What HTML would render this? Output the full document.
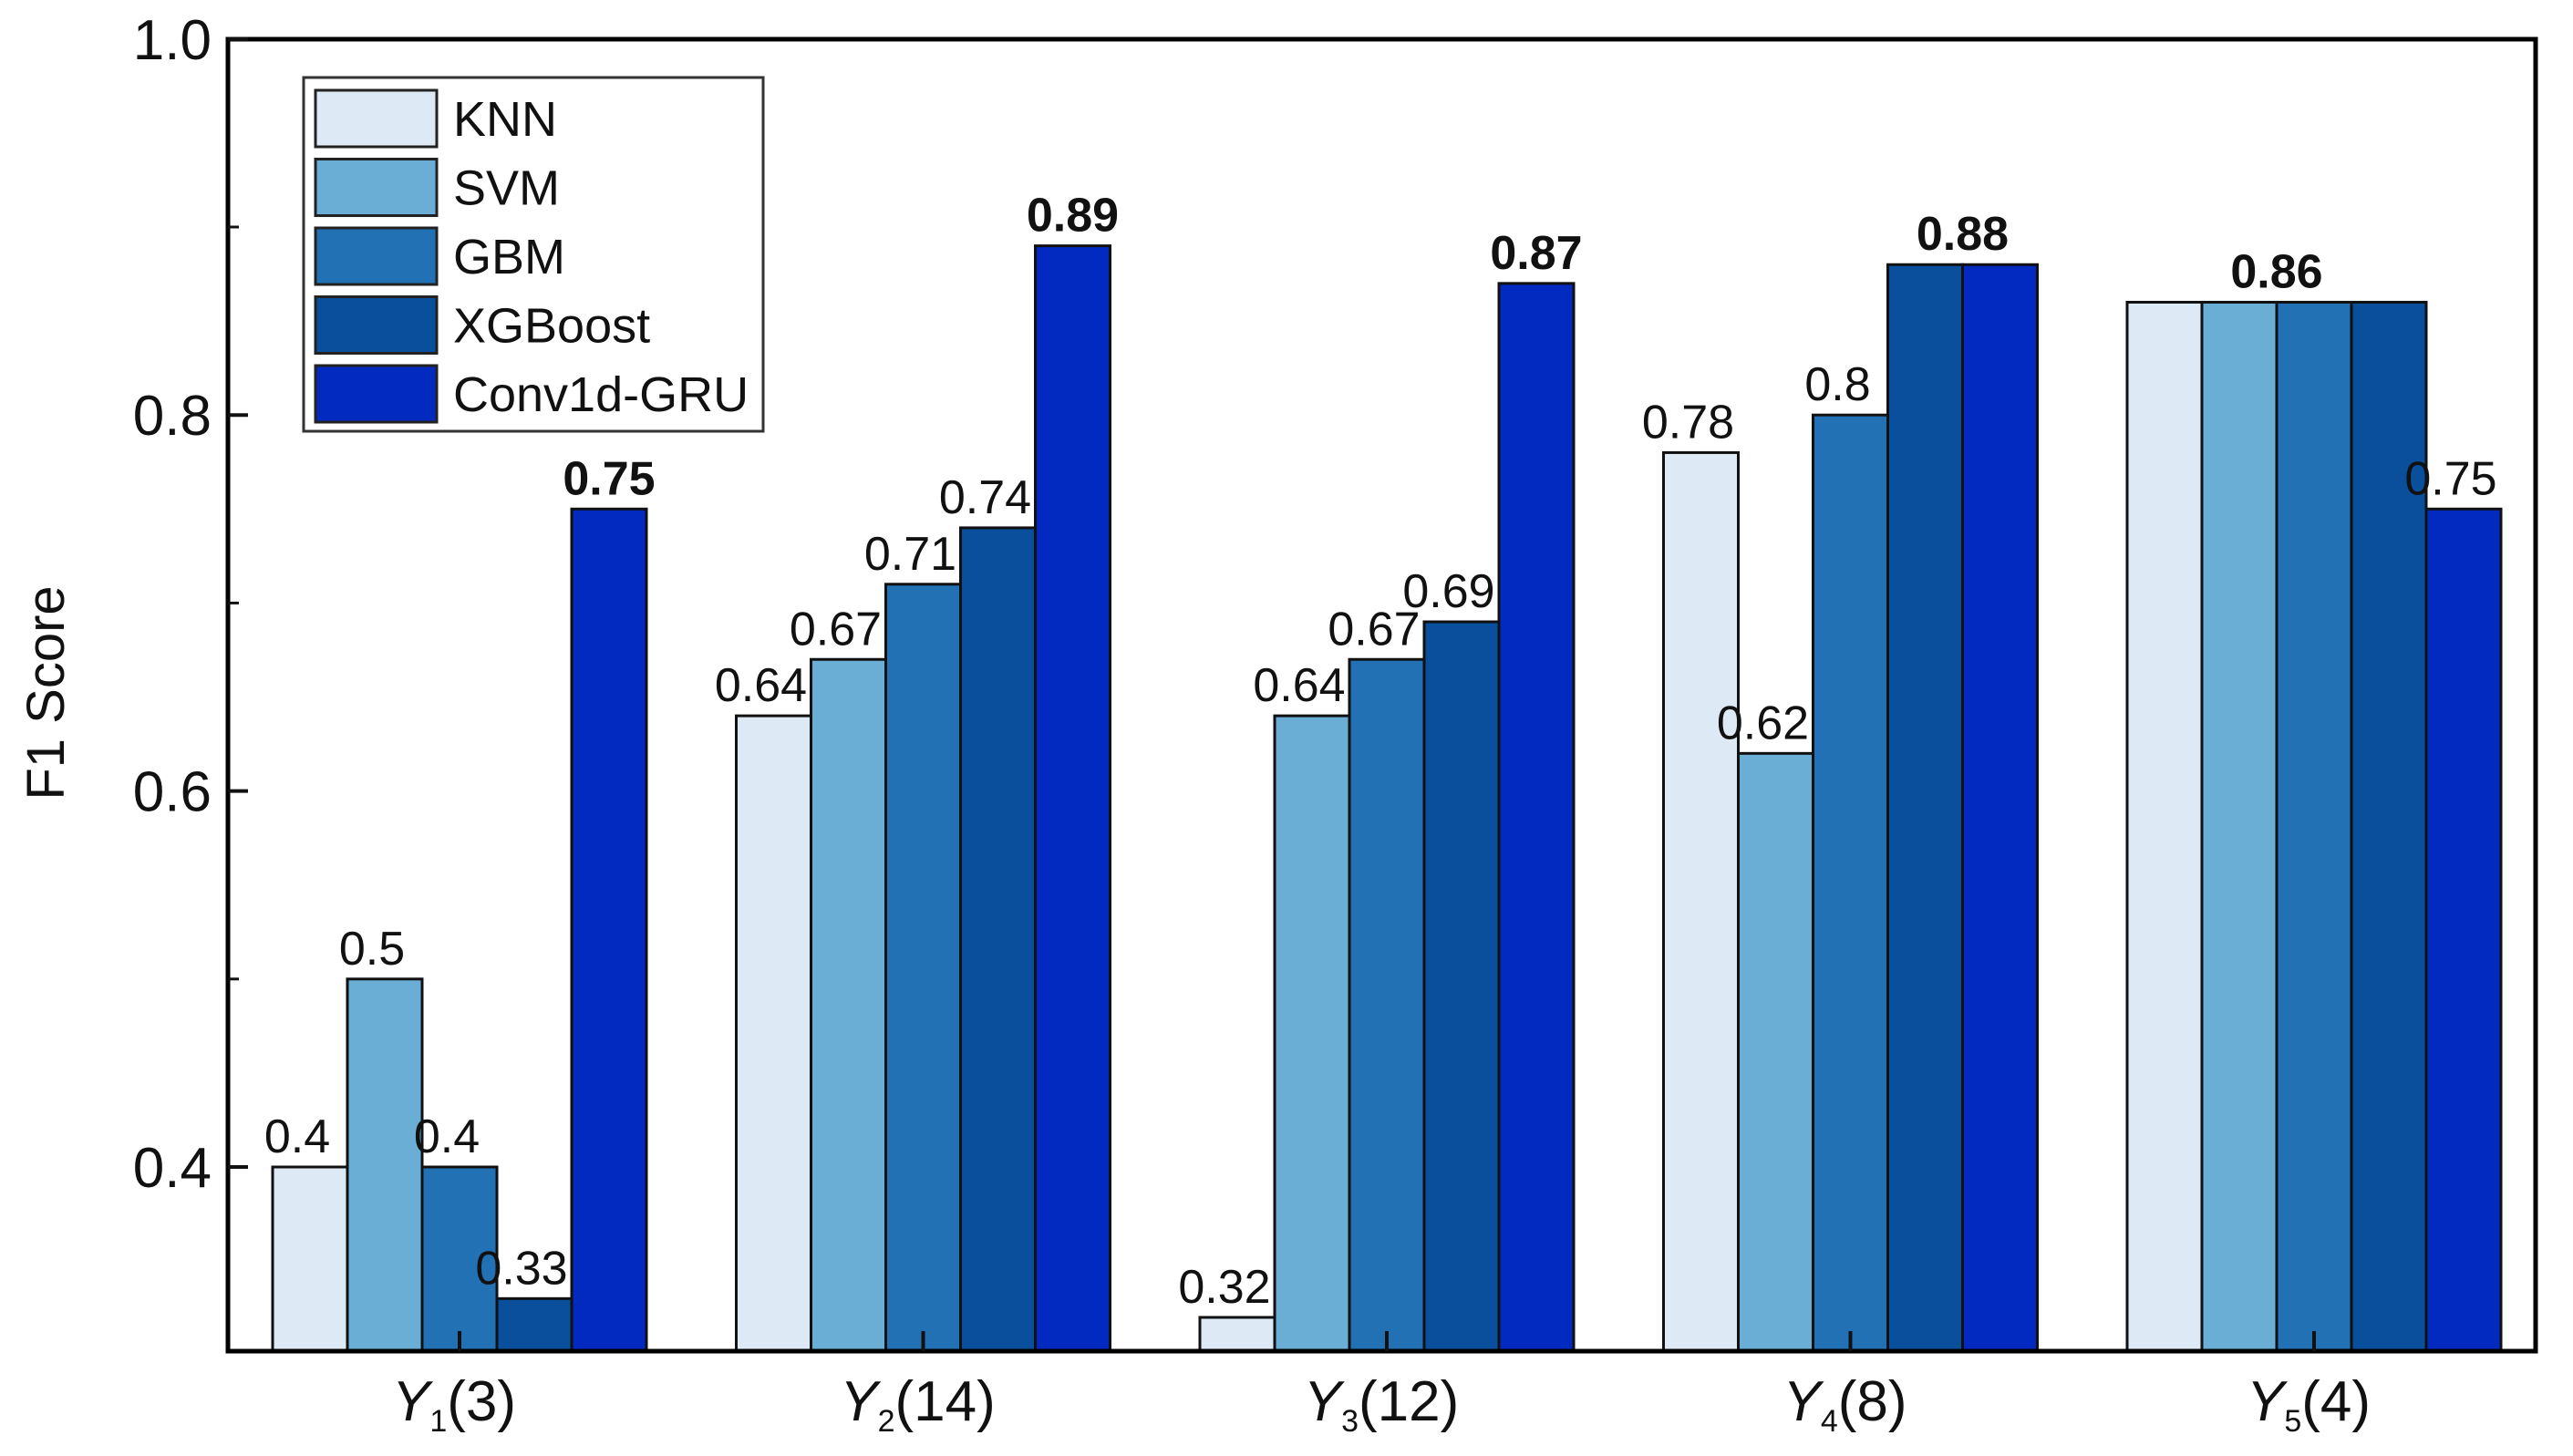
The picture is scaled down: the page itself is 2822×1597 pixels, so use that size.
<!DOCTYPE html>
<html><head><meta charset="utf-8">
<style>
html,body{margin:0;padding:0;background:#fff;}
svg{display:block;font-family:"Liberation Sans",Arial,sans-serif;}
</style></head>
<body>
<svg id="chart" width="2822" height="1597" viewBox="0 0 2822 1597" xmlns="http://www.w3.org/2000/svg">
<g id="bars"></g>
<g id="labels"></g>
<rect x="250" y="43" width="2531" height="1439" fill="none" stroke="#000" stroke-width="5"/>
<g id="axes"></g>
<text transform="translate(70,760) rotate(-90)" text-anchor="middle" font-size="58" fill="#111">F1 Score</text>
<g id="legend">
<rect x="333" y="85" width="504" height="388" fill="#fff" stroke="#333" stroke-width="3"/>
</g>
</svg>
<script>
const categories = ["1(3)", "2(14)", "3(12)", "4(8)", "5(4)"];
const catSub = ["1", "2", "3", "4", "5"];
const catRest = ["(3)", "(14)", "(12)", "(8)", "(4)"];
const seriesNames = ["KNN", "SVM", "GBM", "XGBoost", "Conv1d-GRU"];
const knn = [0.40, 0.64, 0.32, 0.78, 0.86];
const svm = [0.50, 0.67, 0.64, 0.62, 0.86];
const gbm = [0.40, 0.71, 0.67, 0.80, 0.86];
const xgb = [0.33, 0.74, 0.69, 0.88, 0.86];
const conv = [0.75, 0.89, 0.87, 0.88, 0.75];
const yTicks = [0.4, 0.6, 0.8, 1.0];
const yTickLabels = ["0.4", "0.6", "0.8", "1.0"];
const yMinorTicks = [0.5, 0.7, 0.9];

const colors = ["#dde9f5", "#6aaed6", "#2271b5", "#0a4f9c", "#0229c0"];
const series = [knn, svm, gbm, xgb, conv];
const NS = "http://www.w3.org/2000/svg";
const plotL = 250, plotR = 2781, plotB = 1482;
const y = v => 1280 - (v - 0.4) * 2062;
const groupStart = i => 299 + i * 508.5;
const barW = 82;
const x = (g, s) => groupStart(g) + s * barW;

function mk(tag, attrs, parent) {
  const e = document.createElementNS(NS, tag);
  for (const k in attrs) e.setAttribute(k, attrs[k]);
  parent.appendChild(e);
  return e;
}
const barsG = document.getElementById("bars");
const labG = document.getElementById("labels");
const axG = document.getElementById("axes");
const legG = document.getElementById("legend");

for (let g = 0; g < categories.length; g++) {
  for (let s = 0; s < series.length; s++) {
    const v = series[s][g];
    const r = mk("rect", {x: x(g, s), y: y(v), width: barW, height: plotB - y(v), fill: colors[s], stroke: "#111", "stroke-width": 3}, barsG);
    
    
  }
  const vals = series.map(a => a[g]);
  const mx = Math.max(...vals);
  let s = 0;
  while (s < vals.length) {
    let e = s;
    while (e + 1 < vals.length && vals[e + 1] === vals[s]) e++;
    const v = vals[s];
    const single = e === s;
    const cx = (x(g, s) + x(g, e) + barW) / 2 - (single && v !== mx ? 14 : 0);
    const t = mk("text", {x: cx, y: y(v) - 16, "text-anchor": "middle", "font-size": 52, fill: "#111", "font-weight": v === mx ? "bold" : "normal"}, labG);
    t.textContent = String(v).replace(/^0\.(\d)0$/, "0.$1");
    
    
    s = e + 1;
  }
  const cxg = groupStart(g) + barW * 2.5;
  const tk = mk("line", {x1: cxg, x2: cxg, y1: plotB, y2: plotB - 22, stroke: "#111", "stroke-width": 4}, axG);
  
  
  const lt = mk("text", {x: cxg - 6, y: 1558, "text-anchor": "middle", "font-size": 62, fill: "#111"}, axG);
  
  
  const a = mk("tspan", {"font-style": "italic"}, lt); a.textContent = "Y";
  const b = mk("tspan", {"font-size": 34, dy: 12}, lt); b.textContent = catSub[g];
  const c = mk("tspan", {dy: -12}, lt); c.textContent = catRest[g];
}
yTicks.forEach((v, i) => {
  const l = mk("line", {x1: plotL, x2: plotL + 22, y1: y(v), y2: y(v), stroke: "#111", "stroke-width": 4}, axG);
  
  
  const t = mk("text", {x: 232, y: y(v) + 22, "text-anchor": "end", "font-size": 62, fill: "#111"}, axG);
  t.textContent = yTickLabels[i];
  
  
});
yMinorTicks.forEach(v => {
  const l = mk("line", {x1: plotL, x2: plotL + 12, y1: y(v), y2: y(v), stroke: "#111", "stroke-width": 3}, axG);
  
  
});
seriesNames.forEach((n, i) => {
  const top = 99 + i * 75.5;
  const r = mk("rect", {x: 346, y: top, width: 133, height: 62, fill: colors[i], stroke: "#222", "stroke-width": 3}, legG);
  
  
  const t = mk("text", {x: 497, y: top + 50, "font-size": 54, fill: "#111"}, legG);
  t.textContent = n;
  
  
});
</script>
</body></html>
